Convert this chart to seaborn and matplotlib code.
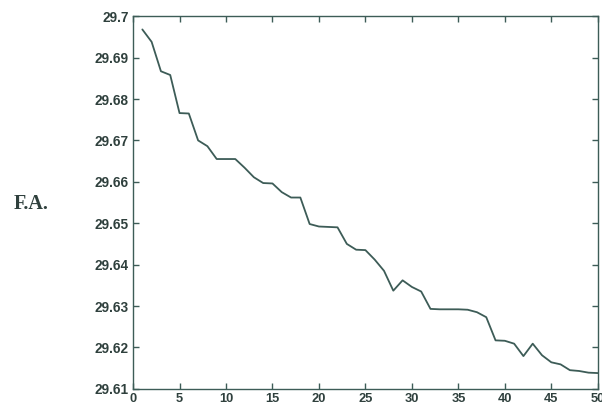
import matplotlib
matplotlib.use("Agg")
import matplotlib.pyplot as plt
import seaborn as sns
import pandas as pd
from matplotlib.ticker import FuncFormatter

iterations = list(range(1, 51))
fa_values = [29.6968, 29.6938, 29.6867, 29.6858, 29.6766, 29.6765, 29.6700, 29.6686, 29.6655, 29.6655,
             29.6655, 29.6634, 29.6611, 29.6597, 29.6596, 29.6575, 29.6562, 29.6562, 29.6498, 29.6492,
             29.6491, 29.6490, 29.6450, 29.6436, 29.6435, 29.6412, 29.6385, 29.6337, 29.6362, 29.6346,
             29.6335, 29.6293, 29.6292, 29.6292, 29.6292, 29.6291, 29.6285, 29.6273, 29.6217, 29.6216,
             29.6209, 29.6179, 29.6209, 29.6181, 29.6164, 29.6159, 29.6145, 29.6143, 29.6139, 29.6138]
y_ticks = [29.61, 29.62, 29.63, 29.64, 29.65, 29.66, 29.67, 29.68, 29.69, 29.70]
x_ticks = [0, 5, 10, 15, 20, 25, 30, 35, 40, 45, 50]

df = pd.DataFrame({"iter": iterations, "fa": fa_values})

sns.set_style("white")
plt.rcParams['font.family'] = ['Liberation Sans', 'DejaVu Sans']

line_col = "#3d5c57"
text_col = "#2f403d"
fig = plt.figure(figsize=(6.02, 4.05), dpi=100)
ax = fig.add_axes([0.221, 0.040, 0.772, 0.920])
sns.lineplot(data=df, x="iter", y="fa", ax=ax, color=line_col, linewidth=1.3)

ax.set_xlim(0, 50)
ax.set_ylim(29.61, 29.70)
ax.set_xticks(x_ticks)
ax.set_yticks(y_ticks)
ax.yaxis.set_major_formatter(FuncFormatter(lambda v, p: f"{v:.2f}".rstrip("0")))
ax.set_xlabel("")
ax.set_ylabel("")
for s in ax.spines.values():
    s.set_color(line_col)
    s.set_linewidth(1.0)
ax.tick_params(direction="in", length=4, width=1, color=line_col,
               top=True, right=True, bottom=True, left=True,
               labelcolor=text_col, pad=3)
ax.tick_params(axis="y", labelsize=9.8)
ax.tick_params(axis="x", labelsize=9.3)
for lab in ax.get_xticklabels() + ax.get_yticklabels():
    lab.set_fontweight("bold")

fig.text(0.051, 0.497, "F.A.", family=["Liberation Serif", "DejaVu Serif"],
         fontsize=14.5, fontweight="bold", color=text_col, ha="center", va="center")

fig.savefig("out.png", dpi=100)
